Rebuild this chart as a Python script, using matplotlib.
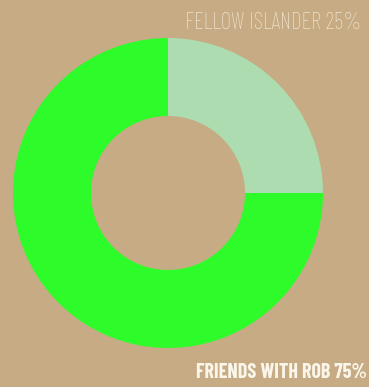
import matplotlib.pyplot as plt

labels = ['FELLOW ISLANDER', 'FRIENDS WITH ROB']
shares = [25, 75]
colors = ['#acdcb0', '#2dfc2a']
bg = '#c6ab84'

fig = plt.figure(figsize=(3.69, 3.87), dpi=100)
fig.patch.set_facecolor(bg)
ax = fig.add_axes([0, 0, 1, 1])
ax.set_facecolor(bg)

# donut: light slice from 12 o'clock going clockwise
ax.pie(shares, colors=colors, startangle=90, counterclock=False,
       radius=155, center=(168, 194),
       wedgeprops=dict(width=78, linewidth=0))
ax.set_xlim(0, 369)
ax.set_ylim(0, 387)
ax.axis('off')

ax.text(361, 364, f'{labels[0]} {shares[0]}%', ha='right', va='center',
        family=['Barlow Condensed', 'DejaVu Sans'], fontweight=250,
        fontsize=16.5, color='#efe3cc')
ax.text(367, 15, f'{labels[1]} {shares[1]}%', ha='right', va='center',
        family=['Barlow Condensed', 'DejaVu Sans'], fontweight='bold',
        fontsize=14.5, color='#fbf6ea')

fig.savefig('out.png', dpi=100, facecolor=bg)
